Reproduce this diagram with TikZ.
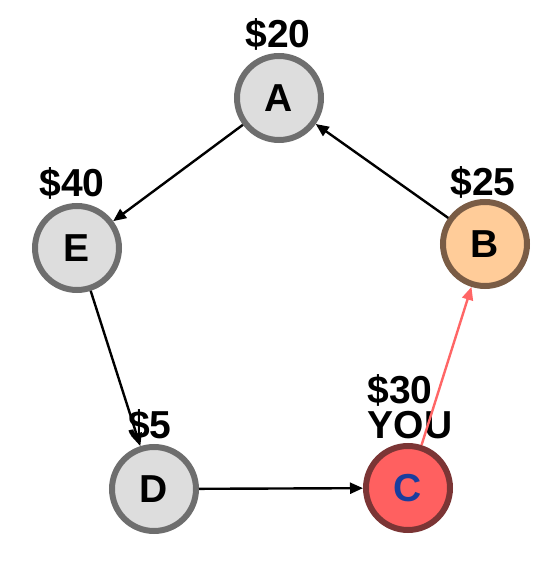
\documentclass[tikz,border=0pt]{standalone}
\usepackage{fontspec}
\setmainfont{Liberation Sans}
\usetikzlibrary{arrows.meta}
\definecolor{gfill}{HTML}{DDDDDD}
\definecolor{gline}{HTML}{6E6E6E}
\definecolor{bfill}{HTML}{FFCC99}
\definecolor{bline}{HTML}{7A5C45}
\definecolor{cfill}{HTML}{FF6060}
\definecolor{cline}{HTML}{7B3535}
\definecolor{redarrow}{HTML}{FF6666}
\definecolor{ctext}{HTML}{1A3D9E}
\begin{document}
\begin{tikzpicture}[x=1pt,y=1pt,
  city/.style={circle,draw=gline,fill=gfill,line width=6pt,minimum size=84pt,inner sep=0pt,
    font=\fontsize{39}{43}\selectfont\bfseries,text=black},
  price/.style={font=\fontsize{39}{43}\selectfont\bfseries,text=black,inner sep=0pt},
  edge/.style={line width=2.4pt,-{Triangle[length=13pt,width=11pt]}}]
\useasboundingbox (0,0) rectangle (549,571);
% labels
\node[price] (lA) at (278,537) {\$20};
\node[price] (lE) at (72,388) {\$40};
\node[price] (lB) at (483,389) {\$25};
\node[price] (lD) at (150,146) {\$5};
\node[price] (lC) at (400,181) {\$30};
\node[price] (lY) at (410,146) {YOU};
% nodes
\node[city] (A) at (279,473) {A};
\node[city] (E) at (77,323) {E};
\node[city,draw=bline,fill=bfill] (B) at (485,327) {B};
\node[city] (D) at (154,82) {D};
\node[city,draw=cline,fill=cfill,text=ctext] (C) at (408,83) {C};
% edges
\draw[edge] (A) -- (E);
\draw[edge] (E) -- (D);
\draw[edge] (D) -- (C);
\draw[edge] (B) -- (A);
\draw[edge,draw=redarrow,fill=redarrow] (C) -- (B);
\end{tikzpicture}
\end{document}
